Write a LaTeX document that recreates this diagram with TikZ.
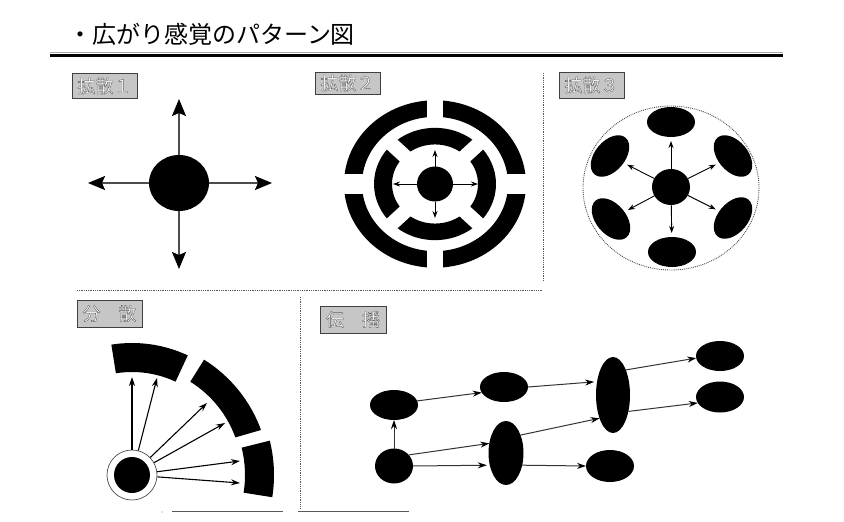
\documentclass[tikz,border=0pt]{standalone}
\usepackage{fontspec}
\newfontfamily\jp{Noto Sans CJK JP}
\newfontfamily\jpl{Noto Sans CJK JP Black}
\usetikzlibrary{arrows.meta,shapes.geometric}
\newcommand\outlined[1]{{\color{white}\special{pdf:literal direct 2 Tr 0.35 w 0.35 G}#1\special{pdf:literal direct 0 Tr 0 G}}}
\begin{document}
\begin{tikzpicture}[x=1pt,y=-1pt,
  blob/.style={ellipse,fill=black,draw=none,inner sep=0pt,outer sep=0pt},
  lblbox/.style={rectangle,draw=gray!50!black,fill=gray!45,line width=0.8pt,minimum width=65pt,inner sep=0pt,font=\jp\fontsize{18}{18}\selectfont},
  sep/.style={draw=gray!70!black,densely dotted,line width=0.8pt},
  bigarr/.style={draw=gray!60!black,line width=1.6pt,-{Stealth[length=17pt,width=14pt,inset=3pt,color=black]}},
  smarr/.style={draw=black,line width=0.9pt,-{Stealth[length=7pt,width=5pt]}},
  fanarr/.style={draw=black,line width=1.1pt,-{Stealth[length=9pt,width=6pt]}},
  medarr/.style={draw=black!80,line width=1pt,-{Stealth[length=9pt,width=6pt,color=black]}},
]
\useasboundingbox (0,0) rectangle (844,522);

% title
\node[anchor=base west,inner sep=0pt,font=\jp\fontsize{24}{24}\selectfont] (title) at (68,43) {・広がり感覚のパターン図};
\draw[gray!70,line width=1.5pt] (50,52.5) -- (783,52.5);
\draw[black,line width=2.5pt] (50,55.3) -- (783,55.3);

% separators
\draw[sep] (77,290.5) -- (543,290.5);
\draw[sep] (543,73) -- (543,281);
\draw[sep] (300,297) -- (300,509);
\draw[gray!70!black,line width=0.8pt] (172,511.5) -- (283,511.5);
\draw[gray!70!black,line width=0.8pt] (298,511.5) -- (409,511.5);
\fill[gray] (162,512) circle (0.7);

% labels
\node[lblbox,minimum height=25pt] (L1) at (104.5,86) {\outlined{拡散１}};
\node[lblbox,minimum height=22pt] (L2) at (347.5,83) {\outlined{拡散２}};
\node[lblbox,minimum height=26pt] (L3) at (591.5,85) {\outlined{拡散３}};
\node[lblbox,minimum height=27pt] (L4) at (109.5,313.5) {\outlined{分　散}};
\node[lblbox,minimum height=27pt,minimum width=66pt] (L5) at (353,319.5) {\outlined{伝　播}};

% ---- 拡散1
\node[blob,minimum width=60pt,minimum height=56pt] (c1) at (179,183) {};
\coordinate (c1n) at (179,99);
\coordinate (c1s) at (179,269);
\coordinate (c1w) at (88,183);
\coordinate (c1e) at (272,183);
\draw[bigarr] (c1.north) -- (c1n);
\draw[bigarr] (c1.south) -- (c1s);
\draw[bigarr] (c1.west) -- (c1w);
\draw[bigarr] (c1.east) -- (c1e);

% ---- 拡散2
\begin{scope}[shift={(435,184)},yscale=0.92]
  \fill[even odd rule] (0,0) circle (91) (0,0) circle (73);
  \fill[even odd rule] (0,0) circle (61) (0,0) circle (43);
  \fill[white] (-8,-96) rectangle (8,-70);
  \fill[white] (-8,70) rectangle (8,96);
  \fill[white] (-96,-11) rectangle (-70,11);
  \fill[white] (70,-11) rectangle (96,11);
  \foreach \a in {45,135,225,315} \fill[white,rotate=\a] (40,-7.5) rectangle (64,7.5);
\end{scope}
\node[blob,minimum width=36pt,minimum height=35pt] (c2) at (435,184) {};
\coordinate (c2n) at (435,150);
\coordinate (c2s) at (435,218);
\coordinate (c2w) at (393,184);
\coordinate (c2e) at (478,184);
\draw[smarr] (c2.north) -- (c2n);
\draw[smarr] (c2.south) -- (c2s);
\draw[smarr] (c2.west) -- (c2w);
\draw[smarr] (c2.east) -- (c2e);

% ---- 拡散3
\draw[gray!60!black,densely dotted,line width=0.9pt] (671,188) ellipse [x radius=88,y radius=82];
\node[blob,minimum width=38pt,minimum height=36pt] (c3) at (671,187) {};
\node[blob,minimum width=48pt,minimum height=30pt] (s1) at (671,122) {};
\node[blob,minimum width=48pt,minimum height=30pt,rotate=-50] (s2) at (733,156) {};
\node[blob,minimum width=48pt,minimum height=30pt,rotate=50] (s3) at (733,218) {};
\node[blob,minimum width=48pt,minimum height=30pt] (s4) at (672,252) {};
\node[blob,minimum width=48pt,minimum height=30pt,rotate=-50] (s5) at (611,219) {};
\node[blob,minimum width=48pt,minimum height=30pt,rotate=50] (s6) at (610,156) {};
\foreach \s in {s1,s2,s3,s4,s5,s6} \draw[smarr,shorten >=4pt] (c3) -- (\s);

% ---- 分散
\begin{scope}[shift={(132,475)},yscale=-1]
  \fill (65:103) arc[start angle=65,end angle=99,radius=103] -- (99:132) arc[start angle=99,end angle=65,radius=132] -- cycle;
  \fill (20:110) arc[start angle=20,end angle=58,radius=110] -- (58:136) arc[start angle=58,end angle=20,radius=139] -- cycle;
  \fill (-9:113) arc[start angle=-9,end angle=14,radius=113] -- (14:142) arc[start angle=14,end angle=-9,radius=142] -- cycle;
\end{scope}
\node[circle,draw=gray!60!black,line width=0.7pt,minimum size=50pt,inner sep=0pt] (src) at (132,475) {};
\node[circle,fill=black,minimum size=36pt,inner sep=0pt] (srcin) at (132,475) {};
\coordinate (t1) at (132,377);
\coordinate (t2) at (157,378);
\coordinate (t3) at (207,403);
\coordinate (t4) at (225,423);
\coordinate (t5) at (240,461);
\coordinate (t6) at (240,483);
\draw[fanarr,line width=1.8pt] (src) -- (t1);
\foreach \t in {t2,t3,t4,t5,t6} \draw[fanarr] (src) -- (\t);

% ---- 伝播
\node[blob,minimum width=48pt,minimum height=30pt] (A) at (394,405) {};
\node[blob,minimum width=38pt,minimum height=35pt] (B) at (394,466) {};
\node[blob,minimum width=48pt,minimum height=30pt] (C) at (504,387) {};
\node[blob,minimum width=35pt,minimum height=64pt] (D) at (506,453) {};
\node[blob,minimum width=48pt,minimum height=32pt] (E) at (610,466) {};
\node[blob,minimum width=34pt,minimum height=76pt] (F) at (613,395) {};
\node[blob,minimum width=48pt,minimum height=30pt] (G) at (720,356) {};
\node[blob,minimum width=48pt,minimum height=31pt] (H) at (720,397) {};
\draw[medarr] (B.north) -- (A.south);
\draw[medarr] (A.10) -- (C.194);
\draw[medarr] (B.37) -- (D.150);
\draw[medarr,shorten >=3pt] (B.east) -- (D.-143);
\draw[medarr] (D.-37) -- (E.west);
\draw[medarr] (D.51) -- (F.240);
\draw[medarr,shorten >=3pt] (C.east) -- (F.140);
\draw[medarr] (F.63) -- (G.185);
\draw[medarr] (F.-47) -- (H.195);
\end{tikzpicture}
\end{document}
